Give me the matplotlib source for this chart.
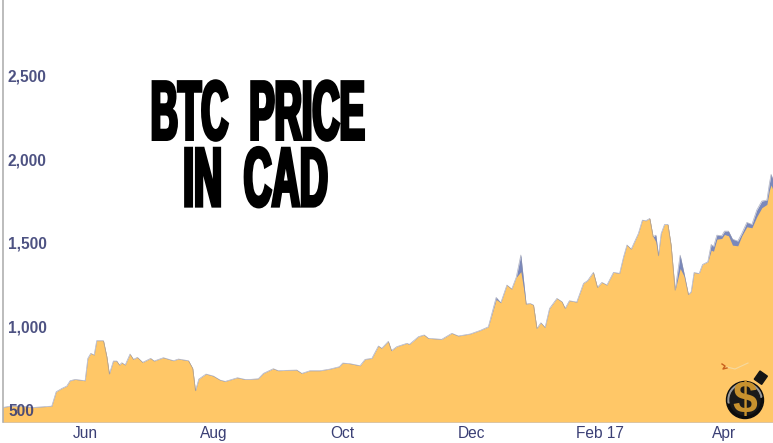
import matplotlib
matplotlib.use('Agg')
import matplotlib.pyplot as plt
from matplotlib.patches import Circle, Wedge, Rectangle
from matplotlib.patheffects import AbstractPathEffect
from matplotlib.transforms import Affine2D, ScaledTranslation

# days counted from 1 Jun 2016
days = [-39, -35.5, -30.8, -24.5, -15.8, -13.7, -11, -8.7, -7.1, -4.7, 0, 1.3, 2.7, 4.3, 5.5, 8.7, 10.3, 11.5,
        13.4, 15, 16.3, 17.4, 19, 21.3, 22.9, 24.8, 27.3, 31.1, 32.7, 37.1, 41.9, 44.2, 49, 51, 52.3, 53.9,
        57.3, 60.8, 64, 66.4, 72.2, 75.8, 78.2, 82.1, 84.5, 89.2, 91.6, 94.8, 100.3, 102.7, 106.6, 111.4,
        116.1, 120.5, 122.1, 125.6, 130.3, 132.7, 135.9, 139, 140.6, 143.7, 145.2, 147.7, 152.5, 153.7,
        158, 160.7, 162.7, 169, 173.8, 176.9, 182.5, 187.2, 191.1, 194.8, 197, 199.9, 202.2, 204.3, 206.5,
        209, 210.9, 212.5, 214.1, 216, 218, 220.1, 223.6, 226, 227.5, 229.5, 233, 236.2, 238.1, 240.9,
        242.8, 244.9, 247.3, 250.4, 253.3, 255.2, 256.8, 258.8, 262.2, 264.1, 265.7, 267.6, 269.2, 270.5,
        271.7, 273, 274.6, 276.2, 277.7, 279.6, 282, 284, 285.9, 287.2, 288.6, 291, 292.6, 295.1, 296.7,
        297.8, 299.4, 301.7, 303, 304.9, 306.8, 309.3, 311.2, 313.6, 316, 318.3, 320.7, 323.1, 324.3,
        325.1, 326]
prices = [521, 529, 529, 521, 529, 615, 635, 649, 681, 689, 681, 815, 845, 835, 921, 921, 825, 721,
          799, 799, 775, 789, 775, 841, 809, 821, 791, 815, 799, 819, 801, 811, 801, 755, 621, 691,
          721, 709, 685, 677, 699, 689, 689, 693, 725, 753, 741, 743, 745, 725, 741, 741,
          751, 765, 787, 783, 771, 809, 815, 889, 875, 917, 861, 885, 905, 899,
          945, 955, 935, 929, 965, 949, 961, 982, 1004, 1168, 1148, 1254, 1230, 1300, 1334,
          1140, 1144, 1134, 994, 1028, 1000, 1114, 1174, 1154, 1114, 1160, 1152, 1264, 1280, 1330,
          1240, 1270, 1254, 1330, 1324, 1424, 1494, 1469, 1563, 1643, 1639, 1653, 1543, 1513,
          1429, 1563, 1617, 1617, 1493, 1223, 1353, 1303, 1197, 1213, 1329, 1323, 1377, 1393, 1463,
          1457, 1529, 1533, 1557, 1549, 1493, 1489, 1549, 1603, 1597, 1663, 1717, 1737, 1823,
          1853, 1823]

# where the blue series sticks out above the orange one
over_days = [194.8, 206.5, 270.5, 282, 284, 296.7, 297.8, 299.4, 301.7, 303, 304.9, 306.8, 309.3, 311.2,
             313.6, 316, 318.3, 320.7, 323.1, 324.3, 325.1, 326]
over_prices = [1180, 1434, 1553, 1433, 1315, 1497, 1483, 1553, 1549, 1577, 1577, 1529, 1517, 1563,
               1629, 1617, 1703, 1757, 1763, 1863, 1917, 1883]

highs = list(prices)
for d, p in zip(over_days, over_prices):
    highs[days.index(d)] = p

month_days = [0, 61, 122, 183, 244, 303]
month_labels = ['Jun', 'Aug', 'Oct', 'Dec', 'Feb 17', 'Apr']
y_ticks = [500, 1000, 1500, 2000, 2500]
y_labels = ['500', '1,000', '1,500', '2,000', '2,500']

W, H = 773, 443
ORANGE = '#ffc767'
NAVY = '#3a3f75'


class Stretch(AbstractPathEffect):
    # makes a text taller around a fixed height, the poster font is not installed
    def __init__(self, sy, cy, lw):
        super().__init__()
        self.sy, self.cy, self.lw = sy, cy, lw

    def draw_path(self, renderer, gc, tpath, affine, rgbFace=None):
        gc0 = renderer.new_gc()
        gc0.copy_properties(gc)
        gc0.set_linewidth(self.lw)
        gc0.set_foreground('black')
        gc0.set_joinstyle('miter')
        tall = Affine2D().translate(0, -self.cy).scale(1, self.sy).translate(0, self.cy)
        renderer.draw_path(gc0, tpath, affine + tall, rgbFace)
        gc0.restore()


plt.rcParams['font.family'] = ['Liberation Sans', 'DejaVu Sans']
fig = plt.figure(figsize=(W / 100, H / 100), dpi=100)
ax = fig.add_axes([3 / W, 1 - 422 / H, 770 / W, 422 / H])

ax.fill_between(days, highs, 434, color='#7a88bb', lw=0, zorder=1)
ax.fill_between(days, prices, 434, color=ORANGE, lw=0, zorder=1.1)
ax.plot(days, highs, color='#8b8fa6', lw=0.5, alpha=0.7, zorder=1.2)

ax.set_xlim(-38.9, 326)
ax.set_ylim(434, 2961)
for s in ['top', 'right', 'bottom']:
    ax.spines[s].set_visible(False)
ax.spines['left'].set_color('#b0b0b0')
ax.spines['left'].set_linewidth(1.2)

ax.set_xticks(month_days, month_labels)
ax.set_yticks(y_ticks, y_labels)
ax.tick_params(axis='x', length=0, pad=3, labelsize=11.2, labelcolor=NAVY)
ax.tick_params(axis='y', length=0, pad=-3.6, labelsize=11.2, labelcolor=NAVY)
up = ScaledTranslation(0, 1 / 100, fig.dpi_scale_trans)
for t in ax.get_yticklabels():
    t.set_horizontalalignment('left')
    t.set_fontweight('bold')
    t.set_alpha(0.9)
    t.set_transform(t.get_transform() + up)

# title
for txt, cx, mid, size in [('BTC  PRICE', 257.5, 109, 27.2), ('IN  CAD', 255.5, 176.5, 28)]:
    t = fig.text(cx / W, 1 - (mid + 13.7) / H, txt, ha='center', va='baseline', color='black',
                 family='Liberation Sans', weight='bold', fontsize=size)
    t.set_path_effects([Stretch(2.15 * 27.2 / size * 1.03, H - mid, 2.4)])

# bomb logo
logo = fig.add_axes([715 / W, 1 - 428 / H, 58 / W, 70 / H])
logo.set_xlim(715, 773)
logo.set_ylim(428, 358)
logo.set_aspect('equal')
logo.axis('off')
logo.patch.set_alpha(0)
logo.plot([727, 735, 748], [367, 369, 363], color='#f5d9a0', lw=0.8)
logo.plot([722, 725, 723, 727], [364, 366, 369, 368], color='#c8601e', lw=1)
logo.add_patch(Rectangle((760, 371), 9, 10, angle=35, color='#151515', zorder=2))
logo.add_patch(Circle((745, 400), 18.5, color='#0d0d0d', zorder=3))
logo.add_patch(Wedge((745, 400), 17, 170, 350, width=2, color='#9a9a9a', zorder=4))
logo.add_patch(Circle((745, 400), 15, color='#1a1a1a', zorder=5))
logo.text(745, 401, '$', color='#c8922e', fontsize=32, weight='bold', ha='center', va='center', zorder=6)

fig.savefig('out.png', dpi=100)
